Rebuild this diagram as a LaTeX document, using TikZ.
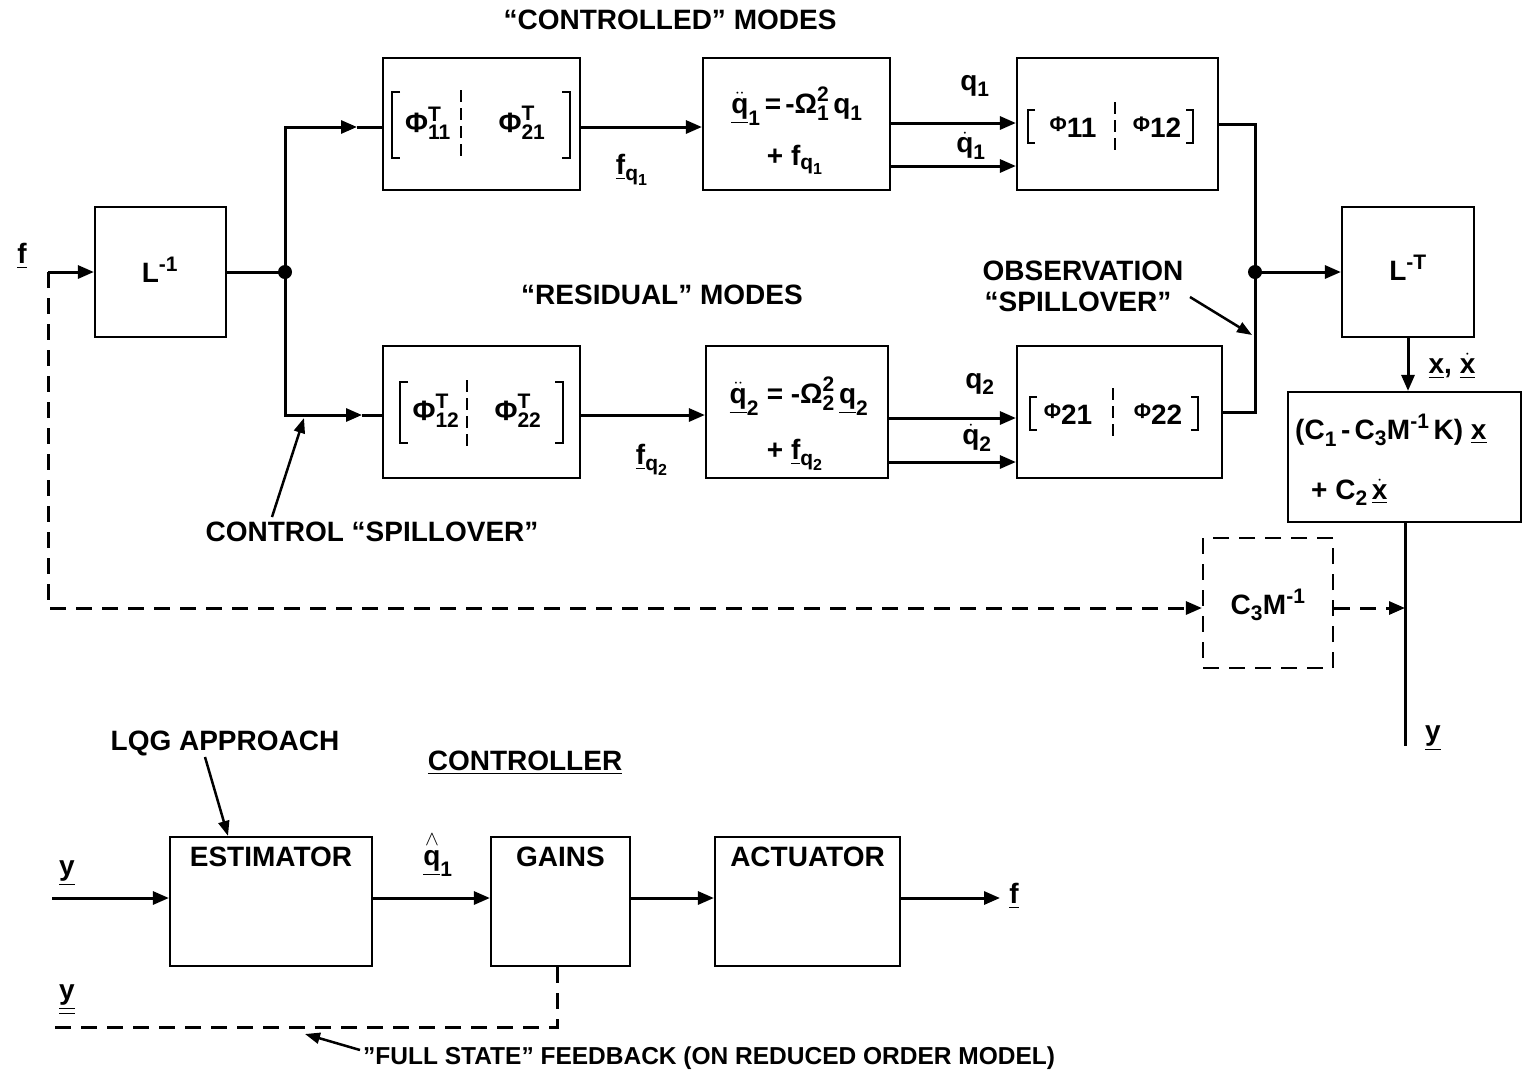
\documentclass[tikz,border=0pt]{standalone}
\usepackage{amsmath}
\usepackage{fontspec}
\setmainfont{Liberation Sans}
\usetikzlibrary{arrows.meta}
\DeclareMathSizes{28}{28}{21}{16}
\DeclareMathSizes{24.5}{24.5}{18}{14}
\newcommand{\tx}[1]{\text{#1}}
\begin{document}
\begin{tikzpicture}[x=1pt,y=-1pt,
  blk/.style={draw, line width=2.2pt, inner sep=0pt},
  dblk/.style={draw, line width=2.2pt, inner sep=0pt, dash pattern=on 16pt off 10pt},
  conn/.style={line width=3pt},
  arr/.style={line width=3pt, -{Triangle[length=16pt,width=13pt]}},
  dconn/.style={line width=3pt, dash pattern=on 16pt off 10pt},
  darr/.style={line width=3pt, dash pattern=on 16pt off 10pt, -{Triangle[length=16pt,width=13pt]}},
  brk/.style={line width=2.5pt},
  dvd/.style={line width=2.5pt, dash pattern=on 12pt off 6pt},
  lbl/.style={font=\bfseries\fontsize{28}{32}\selectfont, inner sep=1pt},
  slbl/.style={font=\bfseries\fontsize{24.5}{28}\selectfont, inner sep=1pt},
  pointer/.style={line width=2.5pt, -{Triangle[length=15pt,width=11pt]}},
  dot/.style={circle, fill, inner sep=0pt, minimum size=14pt}
]
\useasboundingbox (0,0) rectangle (1522,1074);

% ---------- titles ----------
\node[lbl] (tctl) at (670,20) {``CONTROLLED'' MODES};
\node[lbl] (tres) at (662,295) {``RESIDUAL'' MODES};

% ---------- blocks ----------
\node[blk, minimum width=131pt, minimum height=130pt] (L) at (160.5,272) {};
\node[lbl] (Ltx) at (160,270) {$\tx{L}^{\tx{-1}}$};

\node[blk, minimum width=197pt, minimum height=132pt] (P1T) at (481.5,124) {};
\node[blk, minimum width=187pt, minimum height=132pt] (Q1) at (796.5,124) {};
\node[blk, minimum width=201pt, minimum height=132pt] (P1) at (1117.5,124) {};

\node[blk, minimum width=197pt, minimum height=132pt] (P2T) at (481.5,412) {};
\node[blk, minimum width=182pt, minimum height=132pt] (Q2) at (797,412) {};
\node[blk, minimum width=205pt, minimum height=132pt] (P2) at (1119.5,412) {};

\node[blk, minimum width=132pt, minimum height=130pt] (LT) at (1408,272) {};
\node[lbl] (LTtx) at (1408,268) {$\tx{L}^{\tx{-T}}$};

\node[blk, minimum width=233pt, minimum height=130pt] (CB) at (1404.5,457) {};
\node[lbl, anchor=west] (CB1) at (1294,430) {$\tx{(C}_{\tx{1}}\,\tx{-}\,\tx{C}_{\tx{3}}\tx{M}^{\tx{-1}}\,\tx{K)}\ \underline{\tx{x}}$};
\node[lbl, anchor=west] (CB2) at (1310,492) {$\tx{+}\ \tx{C}_{\tx{2}}\,\underline{\dot{\tx{x}}}$};

\node[dblk, minimum width=130pt, minimum height=130pt] (C3) at (1268,603) {};
\node[lbl] (C3tx) at (1268,605) {$\tx{C}_{\tx{3}}\tx{M}^{\tx{-1}}$};

% ---------- contents of Phi^T boxes ----------
\draw[brk] (400,92) -- (392,92) -- (392,158) -- (400,158);
\draw[brk] (562,92) -- (570,92) -- (570,158) -- (562,158);
\draw[dvd] (461,90) -- (461,160);
\node[lbl] (p11) at (428,123) {$\tx{Φ}^{\tx{T}}_{\tx{11}}$};
\node[lbl] (p21) at (522,123) {$\tx{Φ}^{\tx{T}}_{\tx{21}}$};

\draw[brk] (408,382) -- (400,382) -- (400,443) -- (408,443);
\draw[brk] (555,382) -- (563,382) -- (563,443) -- (555,443);
\draw[dvd] (467,380) -- (467,447);
\node[lbl] (p12) at (436,411) {$\tx{Φ}^{\tx{T}}_{\tx{12}}$};
\node[lbl] (p22) at (518,411) {$\tx{Φ}^{\tx{T}}_{\tx{22}}$};

% ---------- contents of Phi boxes ----------
\draw[brk] (1035,110) -- (1028,110) -- (1028,143) -- (1035,143);
\draw[brk] (1186,110) -- (1193,110) -- (1193,143) -- (1186,143);
\draw[dvd] (1115,102) -- (1115,150);
\node[lbl] (f11) at (1073,127) {\raisebox{6pt}{\fontsize{21}{21}\selectfont Φ}11};
\node[lbl] (f12) at (1157,127) {\raisebox{6pt}{\fontsize{21}{21}\selectfont Φ}12};

\draw[brk] (1037,397) -- (1030,397) -- (1030,430) -- (1037,430);
\draw[brk] (1191,397) -- (1198,397) -- (1198,430) -- (1191,430);
\draw[dvd] (1113,388) -- (1113,440);
\node[lbl] (f21) at (1068,414) {\raisebox{6pt}{\fontsize{21}{21}\selectfont Φ}21};
\node[lbl] (f22) at (1158,414) {\raisebox{6pt}{\fontsize{21}{21}\selectfont Φ}22};

% ---------- contents of modal equation boxes ----------
\node[lbl] (e1a) at (797,106) {$\underline{\ddot{\tx{q}}}_{\tx{1}}\,\tx{=}\,\tx{-}\tx{Ω}_{\tx{1}}^{\tx{2}}\,\tx{q}_{\tx{1}}$};
\node[lbl] (e1b) at (795,160) {$\tx{+}\ \tx{f}_{\tx{q}_{\tx{1}}}$};
\node[lbl] (e2a) at (799,396) {$\underline{\ddot{\tx{q}}}_{\tx{2}}\ \tx{=}\ \tx{-}\tx{Ω}_{\tx{2}}^{\tx{2}}\,\underline{\tx{q}}_{\tx{2}}$};
\node[lbl] (e2b) at (795,455) {$\tx{+}\ \underline{\tx{f}}_{\tx{q}_{\tx{2}}}$};

% ---------- connectors: upper part ----------
\node[lbl] (flab) at (22,256) {$\underline{\tx{f}}$};
\coordinate (fj) at (48,272);
\draw[arr] (fj) -- (L.west);
\node[dot] (J1) at (285,272) {};
\draw[conn] (L.east) -- (J1.center);
\coordinate (ta) at (357,127);
\coordinate (ba) at (362,415);
\draw[arr] (J1.center) |- (ta);
\draw[conn] (ta) -- (P1T.west |- ta);
\draw[arr] (J1.center) |- (ba);
\draw[conn] (ba) -- (P2T.west |- ba);

\draw[arr] (P1T.east |- ta) -- (Q1.west |- ta);
\draw[arr] (P2T.east |- ba) -- (Q2.west |- ba);
\node[lbl] (fq1) at (632,170) {$\underline{\tx{f}}_{\tx{q}_{\tx{1}}}$};
\node[lbl] (fq2) at (652,460) {$\underline{\tx{f}}_{\tx{q}_{\tx{2}}}$};

\draw[arr] ([yshift=1pt]Q1.east) -- ([yshift=1pt]P1.west);
\draw[arr] ([yshift=-42pt]Q1.east) -- ([yshift=-42pt]P1.west);
\node[lbl] (q1) at (975,86) {$\tx{q}_{\tx{1}}$};
\node[lbl] (qd1) at (971,146) {$\dot{\tx{q}}_{\tx{1}}$};
\draw[arr] ([yshift=-6pt]Q2.east) -- ([yshift=-6pt]P2.west);
\draw[arr] ([yshift=-50pt]Q2.east) -- ([yshift=-50pt]P2.west);
\node[lbl] (q2) at (980,384) {$\tx{q}_{\tx{2}}$};
\node[lbl] (qd2) at (977,438) {$\dot{\tx{q}}_{\tx{2}}$};

\node[dot] (J2) at (1255,272) {};
\coordinate (bt) at (1255,124);
\coordinate (bb) at (1255,412);
\draw[conn] (P1.east) -- (bt) -- (J2.center) -- (bb) -- (P2.east);
\draw[arr] (J2.center) -- (LT.west);

\node[lbl] (obs1) at (1083,271) {OBSERVATION};
\node[lbl] (obs2) at (1078,302) {``SPILLOVER''};
\coordinate (obsend) at (1252,335);
\draw[pointer] (1190,297) -- (obsend);

\node[lbl] (ctrlsp) at (372,532) {CONTROL ``SPILLOVER''};
\coordinate (ctrlend) at (304,418);
\draw[pointer] (272,517) -- (ctrlend);

\draw[arr] (LT.south) -- (LT.south |- CB.north);
\node[lbl] (xlab) at (1452,366) {$\underline{\tx{x}}\tx{,}\ \underline{\dot{\tx{x}}}$};

\coordinate (yend) at (1405,746);
\draw[conn] (CB.south -| yend) -- (yend);
\node[lbl] (ylab) at (1433,738) {$\underline{\tx{y}}$};

\coordinate (fbus) at (1405,608);
\draw[darr] (fj) |- (C3.west |- fbus);
\draw[darr] (C3.east |- fbus) -- (fbus);

% ---------- controller ----------
\node[lbl] (lqg) at (225,743) {LQG APPROACH};
\node[lbl] (ctl) at (525,763) {\underline{CONTROLLER}};

\node[blk, minimum width=202pt, minimum height=129pt,
      label={[lbl, anchor=north, yshift=-10pt]north:ESTIMATOR}] (EST) at (271,901.5) {};
\node[blk, minimum width=139pt, minimum height=129pt,
      label={[lbl, anchor=north, yshift=-10pt]north:GAINS}] (GN) at (560.5,901.5) {};
\node[blk, minimum width=185pt, minimum height=129pt,
      label={[lbl, anchor=north, yshift=-10pt]north:ACTUATOR}] (ACT) at (807.5,901.5) {};

\draw[pointer] (205,757) -- (EST.north -| 228,0);

\coordinate (yin) at (52,898);
\node[lbl] (yin1) at (67,873) {$\underline{\tx{y}}$};
\draw[arr] (yin) -- (EST.west |- yin);
\draw[arr] (EST.east |- yin) -- (GN.west |- yin);
\node[lbl] (qhat) at (438,854) {$\underline{\overset{\wedge}{\tx{q}}}_{\tx{1}}$};
\draw[arr] (GN.east |- yin) -- (ACT.west |- yin);
\coordinate (fout) at (1000,898);
\draw[arr] (ACT.east |- yin) -- (fout);
\node[lbl] (fo) at (1014,896) {$\underline{\tx{f}}$};

\coordinate (fbk) at (52,1027);
\draw[dconn] (GN.south -| 557,0) |- (fbk);
\node[lbl] (yin2) at (67,1000) {$\underline{\underline{\tx{y}}}$};

\node[slbl, anchor=west] (fsf) at (362,1058) {''FULL STATE'' FEEDBACK (ON REDUCED ORDER MODEL)};
\coordinate (fsfend) at (305,1034);
\draw[pointer] (360,1050) -- (fsfend);
\end{tikzpicture}
\end{document}
